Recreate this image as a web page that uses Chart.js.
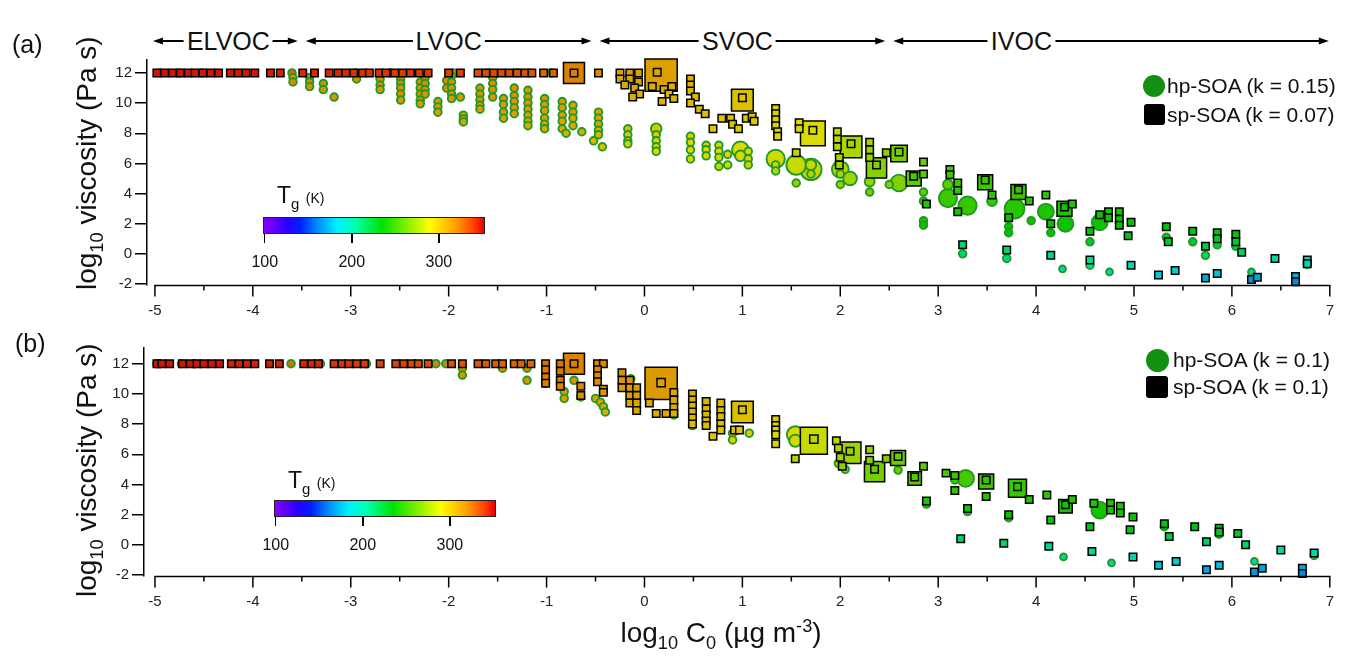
<!DOCTYPE html>
<html><head><meta charset="utf-8">
<script src="https://cdn.jsdelivr.net/npm/chart.js@4.4.1/dist/chart.umd.min.js"></script>
<style>
html,body{margin:0;padding:0;background:#fff;}
#wrap{position:relative;width:1351px;height:659px;overflow:hidden;font-family:Arial,"Liberation Sans",sans-serif;color:#111;}
canvas{position:absolute;left:0;}
.t{position:absolute;white-space:nowrap;}
.hdr{font-size:25px;line-height:28px;top:27px;background:#fff;padding:0 3px;transform:translateX(-50%);}
.plab{font-size:25px;line-height:28px;}
.leg{font-size:21px;line-height:22px;}
.ytitle{font-size:28px;line-height:28px;transform-origin:0 0;transform:rotate(-90deg);}
.xtitle{font-size:28px;line-height:28px;transform:translateX(-50%);}
sub,sup{font-size:65%;line-height:0;}
.cb{position:absolute;height:17px;border:1px solid #222;box-sizing:border-box;}
.cbt{position:absolute;width:1.5px;height:9px;background:#000;}
.cbl{position:absolute;font-size:16px;line-height:16px;transform:translateX(-50%);}
.tg{font-size:23px;line-height:23px;}
.tg small{font-size:14px;}
</style></head><body>
<div id="wrap">
<canvas id="ca" width="1351" height="330" style="top:0"></canvas>
<canvas id="cb" width="1351" height="329" style="top:330px"></canvas>

<div class="t plab" style="left:12px;top:30px">(a)</div>
<div class="t plab" style="left:15px;top:329px">(b)</div>

<div class="t ytitle" style="left:73px;top:290px">log<sub>10</sub> viscosity (Pa s)</div>
<div class="t ytitle" style="left:73px;top:597px">log<sub>10</sub> viscosity (Pa s)</div>
<div class="t xtitle" style="left:721px;top:619px">log<sub>10</sub> C<sub>0</sub> (µg m<sup>-3</sup>)</div>

<div class="t" style="left:1143px;top:75px;width:22px;height:22px;border-radius:50%;background:#129012"></div>
<div class="t leg" style="left:1167px;top:75px">hp-SOA (k = 0.15)</div>
<div class="t" style="left:1144px;top:104px;width:21px;height:21px;border-radius:3px;background:#000"></div>
<div class="t leg" style="left:1167px;top:104px">sp-SOA (k = 0.07)</div>

<div class="t" style="left:1146px;top:349px;width:23px;height:23px;border-radius:50%;background:#129012"></div>
<div class="t leg" style="left:1173px;top:349px">hp-SOA (k = 0.1)</div>
<div class="t" style="left:1146px;top:376px;width:22px;height:22px;border-radius:3px;background:#000"></div>
<div class="t leg" style="left:1173px;top:376px">sp-SOA (k = 0.1)</div>

<div class="t tg" style="left:277px;top:184px">T<sub>g</sub> <small>(K)</small></div>
<div class="t tg" style="left:288px;top:469px">T<sub>g</sub> <small>(K)</small></div>
<div id="cbars"></div>
<div id="hdrs"></div>
</div>
<script>
// ---------------- DATA ----------------
// each point: [log10 C0, log10 viscosity, Tg (K), relative marker weight]
const xTicks = [-5,-4,-3,-2,-1,0,1,2,3,4,5,6,7];
const yTicks = [-2,0,2,4,6,8,10,12];
const tgTicks = [100,200,300];
const classNames = ['ELVOC','LVOC','SVOC','IVOC'];
const classEdges = [-5,-3.5,-0.5,2.5,7];
const classLabelAt = [-4.25,-2.0,0.95,3.85];

const A_sp = [
[-4.98,12,348,1],[-4.90,12,348,1],[-4.82,12,348,1],[-4.74,12,348,1],[-4.66,12,348,1],[-4.59,12,348,1],
[-4.51,12,348,1],[-4.43,12,348,1],[-4.35,12,348,1],[-4.23,12,348,1],[-4.15,12,348,1],[-4.07,12,348,1],[-3.98,12,348,1],
[-3.82,12,346,1],[-3.72,12,346,1],[-3.49,12,344,1],[-3.37,12,344,1],
[-3.22,12,344,1],[-3.13,12,344,1],[-3.05,12,344,1],[-2.97,12,342,1],[-2.88,12,342,1],[-2.81,12,342,1],
[-2.71,12,342,1],[-2.64,12,342,1],[-2.55,12,340,1],[-2.47,12,340,1],[-2.39,12,340,1],[-2.30,12,340,1],[-2.21,12,340,1],
[-2.00,12,338,1],[-1.88,12,338,1],[-1.70,12,336,1],[-1.62,12,336,1],[-1.54,12,336,1],[-1.46,12,335,1],[-1.38,12,335,1],
[-1.30,12,334,1],[-1.22,12,334,1],[-1.15,12,333,1],[-1.03,12,330,1],[-0.93,12,330,1],
[-0.72,12,322,2.8],[-0.72,12,322,1],[-0.47,12,320,1],
[-0.25,12.0,312,1],[-0.15,12.0,312,1],[-0.06,12.0,312,1],[-0.25,11.6,310,1],[-0.15,11.6,310,1],[-0.06,11.4,310,1],
[-0.20,11.2,308,1],[-0.10,11.0,308,1],[-0.05,10.6,306,1],[-0.12,10.4,306,1],
[0.17,11.85,312,4.3],[0.13,12.05,308,1],
[0.08,11.1,306,1],[0.20,10.9,306,1],[0.28,11.1,306,1],[0.25,10.6,305,1],[0.30,10.3,304,1],[0.18,10.1,304,1],
[0.47,11.6,306,1],[0.47,11.2,305,1],[0.47,10.8,304,1],[0.52,10.4,303,1],[0.47,10.0,302,1],[0.56,9.6,301,1],[0.62,9.3,300,1],
[1.00,10.2,300,2.9],[1.00,10.35,298,1],
[0.70,8.3,296,1],[0.79,9.0,298,1],[0.88,9.0,298,1],[0.90,8.6,297,1],[0.96,8.3,296,1],[1.04,9.0,297,1],[1.10,9.1,297,1],[1.12,8.8,296,1],
[1.34,9.65,296,1],[1.34,9.3,295,1],[1.34,8.9,294,1],[1.34,8.5,293,1],[1.36,8.1,292,1],[1.36,7.8,291,1],
[1.58,8.7,290,1],[1.58,8.3,289,1],[1.55,6.7,282,1],
[1.72,8.0,290,3.3],[1.72,8.2,288,1],
[1.97,8.1,284,1],[1.97,7.6,282,1],[1.97,7.1,280,1],[1.99,6.4,277,1],[1.99,5.9,274,1],
[2.11,7.1,278,2.9],[2.11,7.3,276,1],
[2.30,7.4,276,1],[2.30,6.9,274,1],[2.30,6.4,272,1],
[2.37,5.7,268,2.7],[2.37,5.9,266,1],[2.47,6.7,270,1],
[2.60,6.65,265,2.2],[2.60,6.75,263,1],[2.75,5.0,258,2],[2.75,5.15,255,1],
[2.85,6.1,262,1],[2.85,5.3,256,1],[2.88,3.3,242,1],
[3.12,5.6,252,1],[3.12,5.25,250,1],[3.20,4.7,248,1],[3.20,4.2,246,1],[3.20,2.8,240,1],[3.25,0.6,215,1],
[3.48,4.75,250,2],[3.48,4.9,248,1],[3.55,3.9,245,1],[3.72,2.4,238,1],[3.70,0.25,212,1],
[3.82,4.1,248,2],[3.82,4.25,246,1],[3.93,3.5,244,1],[4.10,3.9,245,1],[4.15,2.0,236,1],[4.15,-0.1,208,1],
[4.29,3.0,242,2],[4.29,3.1,240,1],[4.37,3.3,243,1],[4.55,1.5,232,1],[4.55,-0.4,205,1],
[4.65,2.6,240,1],[4.74,2.8,240,1],[4.74,2.4,238,1],[4.85,2.8,240,1],[4.85,2.3,238,1],[4.85,1.9,236,1],
[4.94,1.2,230,1],[4.97,2.1,236,1],[4.97,-0.75,198,1],
[5.25,-1.4,182,1],[5.33,1.8,234,1],[5.35,0.8,225,1],[5.42,-1.1,188,1],
[5.60,1.5,232,1],[5.73,0.5,220,1],[5.73,-1.6,172,1],[5.85,1.4,232,1],[5.85,1.0,228,1],[5.85,-1.3,180,1],
[6.04,1.3,232,1],[6.04,0.8,226,1],[6.10,0.1,215,1],[6.20,-1.7,168,1],[6.26,-1.55,172,1],
[6.44,-0.3,200,1],[6.65,-1.5,175,1],[6.65,-1.85,165,1],[6.77,-0.4,198,1],[6.77,-0.65,195,1]
];

const A_hp = [
[-4.95,12,330,1],[-4.75,12,330,1],[-4.52,12,330,1],[-3.60,12,328,1],[-2.95,12,326,1],[-2.60,12,326,1],
[-1.95,12,324,1],[-1.60,12,324,1],[-1.30,12,322,1],[-0.95,12,322,1],
[-3.59,11.7,318,1],[-3.59,11.4,318,1],[-3.42,11.7,318,1],[-3.42,11.4,318,1],[-3.42,11.1,318,1],
[-3.28,11.3,318,1],[-3.28,10.9,316,1],[-3.17,10.4,316,1],[-2.94,11.6,318,1],
[-2.70,11.6,318,1],[-2.70,11.2,318,1],[-2.70,10.9,316,1],
[-2.49,11.6,318,1],[-2.49,11.3,318,1],[-2.49,11.0,316,1],[-2.49,10.6,316,1],[-2.49,10.2,315,1],
[-2.29,11.4,318,1],[-2.29,11.0,316,1],[-2.29,10.6,316,1],[-2.29,10.2,315,1],[-2.29,9.95,314,1],
[-2.24,11.7,318,1],[-2.24,11.3,318,1],[-2.24,10.9,316,1],[-2.24,10.6,316,1],
[-2.11,10.1,315,1],[-2.11,9.75,314,1],[-2.11,9.4,313,1],[-2.02,11.5,318,1],[-2.02,11.0,316,1],
[-1.97,11.8,318,1],[-1.97,11.4,318,1],[-1.97,11.0,316,1],[-1.97,10.6,316,1],[-1.97,10.3,315,1],
[-1.88,10.4,315,1],[-1.85,9.2,312,1],[-1.85,8.95,311,1],[-1.85,8.75,310,1],
[-1.68,11.0,316,1],[-1.68,10.6,316,1],[-1.68,10.2,315,1],[-1.68,9.85,314,1],[-1.68,9.6,313,1],
[-1.55,11.7,318,1],[-1.55,11.3,318,1],[-1.55,10.9,316,1],[-1.55,10.4,315,1],
[-1.44,10.3,315,1],[-1.44,9.9,314,1],[-1.44,9.4,313,1],[-1.44,9.0,311,1],
[-1.33,11.0,316,1],[-1.33,10.5,315,1],[-1.33,10.1,315,1],[-1.33,9.7,314,1],[-1.33,9.3,312,1],
[-1.19,10.85,316,1],[-1.19,10.4,315,1],[-1.19,10.0,314,1],[-1.19,9.6,313,1],[-1.19,9.2,312,1],[-1.19,8.8,310,1],[-1.19,8.5,309,1],
[-1.02,10.3,315,1],[-1.02,9.9,314,1],[-1.02,9.5,313,1],[-1.02,9.0,311,1],[-1.02,8.6,310,1],[-1.02,8.3,308,1],
[-0.84,10.1,314,1],[-0.84,9.7,313,1],[-0.84,9.2,312,1],[-0.84,8.8,310,1],[-0.84,8.3,308,1],[-0.80,8.0,306,1],
[-0.73,9.85,313,1],[-0.73,9.4,312,1],[-0.73,9.0,311,1],[-0.73,8.5,309,1],[-0.64,8.1,306,1],[-0.52,7.5,302,1],
[-0.47,9.4,310,1],[-0.47,9.0,309,1],[-0.47,8.6,308,1],[-0.47,8.2,306,1],[-0.47,7.9,304,1],[-0.43,7.1,300,1],
[-0.17,8.3,300,1],[-0.17,7.9,298,1],[-0.17,7.5,296,1],[-0.17,7.3,295,1],
[0.12,8.3,298,1.4],[0.12,7.9,296,1],[0.12,7.5,294,1],[0.12,7.1,292,1],[0.12,6.8,290,1],
[0.47,7.8,294,1],[0.47,7.4,292,1],[0.47,6.9,290,1],[0.47,6.3,287,1],
[0.63,7.2,292,1],[0.63,6.9,290,1],[0.63,6.5,288,1],
[0.76,7.2,292,1],[0.76,6.8,290,1],[0.76,6.4,288,1],[0.76,5.8,284,1],
[0.85,6.6,288,1],[0.85,5.9,284,1],[0.98,6.9,290,2.2],[0.98,6.5,288,1.4],
[1.06,6.8,290,1],[1.06,6.3,287,1],[1.06,5.9,284,1],
[1.34,6.3,287,2.4],[1.34,5.9,284,1],[1.34,5.5,282,1],
[1.55,5.9,285,2.6],[1.55,4.7,272,1],[1.70,5.9,285,1.4],[1.70,5.6,284,2.8],[1.70,5.3,280,1],
[2.00,5.6,282,2.2],[2.00,5.3,279,1],[2.00,4.6,272,1],[2.10,5.0,276,1.8],
[2.30,4.8,272,1.3],[2.30,4.1,265,1],[2.50,4.6,268,1],[2.60,4.7,268,2.2],
[2.85,4.1,260,1],[2.85,3.5,252,1],[2.85,2.2,240,1],[2.85,1.9,238,1],
[3.10,4.6,258,1.3],[3.10,3.7,250,2.4],[3.25,0.0,212,1],[3.30,3.2,248,2.4],[3.55,3.5,248,1.3],
[3.72,1.8,236,1],[3.72,1.4,232,1],[3.70,-0.3,208,1],[3.78,3.0,245,2.6],[3.95,2.2,238,1],
[4.10,2.8,242,2.1],[4.15,1.4,232,1],[4.27,-1.0,195,0.9],[4.30,2.0,238,2.1],
[4.55,0.8,226,1],[4.55,-0.75,200,1],[4.65,2.1,238,2.1],[4.75,-1.2,192,0.9],
[5.33,1.1,230,1],[5.60,0.8,226,1],[5.73,-0.1,210,1],[5.85,0.6,224,1],[6.04,0.5,222,1],
[6.20,-1.2,190,0.9],[6.77,-0.7,196,1]
];

const B_sp = [
[-4.98,12,348,1],[-4.93,12,348,1],[-4.85,12,348,1],[-4.72,12,348,1],[-4.64,12,348,1],[-4.57,12,348,1],
[-4.50,12,348,1],[-4.42,12,348,1],[-4.34,12,348,1],[-4.22,12,346,1],[-4.14,12,346,1],[-4.06,12,346,1],
[-3.98,12,346,1],[-3.83,12,346,1],[-3.73,12,346,1],[-3.48,12,344,1],[-3.40,12,344,1],[-3.33,12,344,1],
[-3.17,12,342,1],[-3.09,12,342,1],[-3.02,12,342,1],[-2.94,12,340,1],[-2.86,12,340,1],[-2.70,12,338,1],
[-2.54,12,338,1],[-2.46,12,338,1],[-2.38,12,336,1],[-2.31,12,336,1],[-2.21,12,336,1],
[-1.97,12,334,1],[-1.86,12,334,1],[-1.70,12,332,1],[-1.62,12,332,1],[-1.52,12,332,1],[-1.45,12,330,1],
[-1.33,12,330,1],[-1.26,12,330,1],[-1.16,12,328,1],[-1.01,12,326,1],[-0.86,12,326,1],
[-0.72,12,322,2.8],[-0.72,12,322,1],[-0.48,12,320,1],[-0.42,12,320,1],
[-1.01,11.6,325,1],[-1.01,11.1,324,1],[-1.01,10.7,323,1],
[-0.86,11.5,325,1],[-0.86,10.9,324,1],[-0.86,10.5,322,1],[-0.65,10.5,320,1],[-0.65,9.9,318,1],
[-0.48,11.6,320,1],[-0.48,11.2,319,1],[-0.48,10.8,318,1],[-0.42,10.3,316,1],[-0.42,10.1,315,1],
[-0.23,11.4,316,1],[-0.23,10.9,315,1],[-0.23,10.4,314,1],
[-0.15,10.9,315,1],[-0.15,10.4,314,1],[-0.15,9.9,312,1],[-0.15,9.4,311,1],
[-0.08,10.4,313,1],[-0.08,9.9,312,1],[-0.08,9.4,311,1],[-0.08,8.9,309,1],
[0.17,10.7,314,4.3],[0.17,10.75,310,1.1],[0.05,9.4,310,1],[0.12,8.7,308,1],[0.22,8.7,308,1],
[0.30,10.1,309,1],[0.30,9.6,308,1],[0.30,9.1,307,1],[0.30,8.7,306,1],
[0.49,10.0,307,1],[0.49,9.6,306,1],[0.49,9.2,305,1],[0.49,8.8,304,1],[0.49,8.4,303,1],[0.49,8.0,302,1],
[0.63,9.5,305,1],[0.63,9.0,304,1],[0.63,8.6,303,1],[0.63,8.2,302,1],[0.63,7.9,301,1],[0.70,7.2,298,1],
[0.78,9.4,304,1],[0.78,8.9,303,1],[0.78,8.5,302,1],[0.78,8.0,300,1],[0.78,7.6,299,1],
[1.00,8.8,300,2.9],[1.00,8.95,298,1],[0.92,7.6,298,1],[0.97,7.6,298,1],
[1.34,8.3,296,1],[1.34,7.9,294,1],[1.34,7.6,293,1],[1.34,7.3,292,1],[1.34,6.7,288,1],
[1.73,6.9,285,3.6],[1.73,7.0,282,1.1],[1.54,5.7,280,1],
[1.96,6.9,280,1],[1.98,6.4,278,1],[2.00,5.8,275,1],[2.02,5.2,270,1],
[2.10,6.1,274,2.9],[2.10,6.2,272,1],[2.30,6.3,272,1],[2.30,5.6,268,1],
[2.35,4.85,264,2.7],[2.35,5.0,262,1],[2.47,5.7,266,1],[2.59,5.75,262,2],[2.59,5.85,260,1],
[2.76,4.4,256,1.8],[2.76,4.5,254,1],[2.85,5.2,258,1],[2.88,2.9,242,1],
[3.08,4.75,252,1],[3.17,4.6,250,1],[3.17,3.6,246,1],[3.23,0.4,214,1],[3.30,2.4,240,1],
[3.49,4.2,250,2],[3.49,4.3,248,1],[3.49,3.2,244,1],[3.67,0.1,212,1],[3.72,2.0,238,1],
[3.81,3.75,248,2.4],[3.81,3.85,246,1],[3.93,3.0,244,1],[4.11,3.3,245,1],[4.13,-0.1,208,1],[4.15,1.65,234,1],
[4.30,2.55,242,1.8],[4.30,2.65,240,1],[4.37,3.0,244,1],[4.55,1.2,232,1],[4.57,-0.45,204,1],[4.59,2.75,242,1],
[4.76,2.75,242,1],[4.76,2.3,240,1],[4.86,2.55,242,1],[4.86,2.1,238,1],
[4.96,1.0,230,1],[4.99,1.85,236,1],[4.99,-0.8,198,1],
[5.25,-1.35,180,1],[5.31,1.4,232,1],[5.36,0.55,222,1],[5.43,-1.1,186,1],
[5.62,1.2,230,1],[5.74,0.2,215,1],[5.74,-1.65,172,1],[5.87,1.1,230,1],[5.87,0.85,228,1],[5.87,-1.35,180,1],
[6.06,0.75,226,1],[6.14,0.0,212,1],[6.23,-1.8,168,1],[6.31,-1.55,172,1],
[6.50,-0.35,200,1],[6.72,-1.55,172,1],[6.72,-1.9,165,1],[6.84,-0.55,198,1]
];

const B_hp = [
[-4.98,12,328,1],[-4.73,12,328,1],[-4.59,12,326,1],[-3.61,12,326,1],[-3.31,12,326,1],[-2.84,12,324,1],
[-2.13,12,322,1],[-2.03,12,322,1],
[-1.86,11.7,318,1],[-1.86,11.25,316,1],[-1.45,11.7,318,1],[-1.20,11.7,318,1],[-1.20,10.9,316,1],
[-1.01,10.7,316,1],[-0.82,10.15,314,1],[-0.82,9.7,312,1],[-0.72,10.9,315,1],[-0.65,9.8,312,1],
[-0.50,9.7,310,1],[-0.45,9.45,309,1],[-0.42,9.15,308,1],[-0.40,8.8,306,1],[-0.14,11.0,314,1],
[0.30,8.6,304,1],[0.49,7.9,300,1],[0.90,7.4,296,1],[0.90,6.95,294,1],[1.07,7.4,296,1],
[1.54,7.3,290,2.2],[1.54,6.9,288,1.6],
[1.98,5.4,276,1],[2.05,5.0,272,1],[2.59,4.95,262,1],[2.88,2.7,240,1],[3.17,4.3,250,1],[3.28,4.4,252,2.2],
[3.30,2.2,238,1],[3.72,1.8,236,1],[4.28,-0.8,198,0.9],[4.65,2.3,240,2.2],[4.77,-1.2,192,0.9],
[5.31,1.2,230,1],[5.87,0.7,225,1],[6.23,-1.1,192,0.9],[6.84,-0.7,196,1]
];

// ---------------- STYLE ----------------
const cmap = [[100,[130,0,255]],[125,[40,0,255]],[140,[0,30,255]],[160,[0,140,255]],[183,[0,240,255]],
  [205,[0,255,170]],[235,[0,225,0]],[265,[140,240,0]],[290,[255,255,0]],[320,[255,160,0]],[340,[255,70,0]],[353,[235,0,0]]];
function tgRGB(t){
  if (t <= cmap[0][0]) return cmap[0][1];
  for (let i=1;i<cmap.length;i++){
    if (t <= cmap[i][0]){
      const [t0,c0]=cmap[i-1],[t1,c1]=cmap[i]; const f=(t-t0)/(t1-t0);
      return c0.map((v,k)=>Math.round(v+(c1[k]-v)*f));
    }
  }
  return cmap[cmap.length-1][1];
}
// marker fills are slightly darker than the colour bar (as in the printed figure)
const tgColor = t => 'rgb('+tgRGB(t).map(v=>Math.round(v*0.86)).join(',')+')';

const FONT = 'Arial, "Liberation Sans", sans-serif';
Chart.defaults.font.family = FONT;
Chart.defaults.color = '#222';

const framePlugin = {
  id:'frame',
  afterDraw(chart, args, opts){
    const {ctx, chartArea} = chart; const x = chart.scales.x;
    ctx.save();
    ctx.strokeStyle='#000'; ctx.fillStyle='#000'; ctx.lineWidth=1.5;
    const yb = chartArea.bottom + 0.5;
    ctx.beginPath(); ctx.moveTo(x.getPixelForValue(-5)-0.75, yb); ctx.lineTo(x.getPixelForValue(7)+0.75, yb); ctx.stroke();
    for (let v=-5; v<=7; v+=0.5){
      const px = x.getPixelForValue(v);
      const L = Number.isInteger(v) ? 11 : 5;
      ctx.beginPath(); ctx.moveTo(px, yb); ctx.lineTo(px, yb+L); ctx.stroke();
    }
    if (opts && opts.header){
      const y = 41; ctx.lineWidth = 2;
      for (let i=0;i<classNames.length;i++){
        const x0 = x.getPixelForValue(classEdges[i]) + (i===0 ? -2 : 4);
        const x1 = x.getPixelForValue(classEdges[i+1]) - (i===classNames.length-1 ? 1 : 4);
        ctx.beginPath(); ctx.moveTo(x0+6,y); ctx.lineTo(x1-6,y); ctx.stroke();
        ctx.beginPath(); ctx.moveTo(x0,y); ctx.lineTo(x0+10,y-3.5); ctx.lineTo(x0+10,y+3.5); ctx.closePath(); ctx.fill();
        ctx.beginPath(); ctx.moveTo(x1,y); ctx.lineTo(x1-10,y-3.5); ctx.lineTo(x1-10,y+3.5); ctx.closePath(); ctx.fill();
      }
    }
    ctx.restore();
  }
};

function toPts(arr){
  return arr.map(p=>({x:p[0],y:p[1],tg:p[2],m:p[3]})).sort((a,b)=>b.m-a.m);
}

function makePanel(id, sp, hp, cfg){
  return new Chart(document.getElementById(id), {
    type:'scatter',
    data:{datasets:[
      {label:'sp-SOA', data:toPts(sp), pointStyle:'rect', clip:false,
       pointRadius:c=>c.raw?5.3*c.raw.m:5, pointBackgroundColor:c=>c.raw?tgColor(c.raw.tg):'#000',
       pointBorderColor:'#000', pointBorderWidth:1.5},
      {label:'hp-SOA', data:toPts(hp), pointStyle:'circle', clip:false,
       pointRadius:c=>c.raw?3.8*c.raw.m:4, pointBackgroundColor:c=>c.raw?tgColor(c.raw.tg):'#1a1',
       pointBorderColor:'#249824', pointBorderWidth:1.9}
    ]},
    options:{
      responsive:false, animation:false, devicePixelRatio:1, events:[],
      layout:{autoPadding:false, padding:cfg.padding},
      plugins:{legend:{display:false}, tooltip:{enabled:false}, frame:{header:cfg.header}},
      scales:{
        x:{type:'linear', min:cfg.xMin, max:7.03,
           afterBuildTicks:s=>{s.ticks = xTicks.map(v=>({value:v}));},
           afterFit:s=>{s.height=30;},
           grid:{display:false, drawTicks:false}, border:{display:false},
           ticks:{padding:17, maxRotation:0, autoSkip:false, font:{size:15}, color:'#222', callback:v=>String(v)}},
        y:{type:'linear', min:-2.066, max:cfg.yMax,
           afterBuildTicks:s=>{s.ticks = yTicks.map(v=>({value:v}));},
           afterFit:s=>{s.width=40;},
           grid:{drawOnChartArea:false, drawTicks:true, tickLength:12, color:'#000', lineWidth:1.5},
           border:{display:true, color:'#000', width:1.5},
           ticks:{padding:3, font:{size:15}, color:'#222', callback:v=>String(v)}}
      }
    },
    plugins:[framePlugin]
  });
}

const chartA = makePanel('ca', A_sp, A_hp, {xMin:-5.081, yMax:12.86, header:true, padding:{left:107,right:10,top:60,bottom:15}});
const chartB = makePanel('cb', B_sp, B_hp, {xMin:-5.112, yMax:13.04, header:false, padding:{left:104,right:10,top:18,bottom:53}});

// header labels
const hdrs = document.getElementById('hdrs');
classNames.forEach((n,i)=>{
  const d = document.createElement('div'); d.className='t hdr'; d.textContent=n;
  d.style.left = chartA.scales.x.getPixelForValue(classLabelAt[i]) + 'px';
  hdrs.appendChild(d);
});

// colour bars
const cbars = document.getElementById('cbars');
const cbMin = 98, cbMax = 353;
const grad = 'linear-gradient(to right,' + cmap.map(([t,c])=>'rgb('+c.join(',')+') '+((t-cbMin)/(cbMax-cbMin)*100).toFixed(2)+'%').join(',') + ')';
[[263,217],[274,500]].forEach(([L,T])=>{
  const W = 222;
  const b = document.createElement('div'); b.className='cb';
  b.style.cssText = `left:${L}px;top:${T}px;width:${W}px;background:${grad}`;
  cbars.appendChild(b);
  tgTicks.forEach(t=>{
    const px = L + (t-cbMin)/(cbMax-cbMin)*W;
    const k = document.createElement('div'); k.className='cbt';
    k.style.cssText = `left:${px-0.75}px;top:${T+17}px`; cbars.appendChild(k);
    const l = document.createElement('div'); l.className='cbl t'; l.textContent=String(t);
    l.style.cssText = `left:${px}px;top:${T+37}px`; cbars.appendChild(l);
  });
});
</script>
</body></html>
